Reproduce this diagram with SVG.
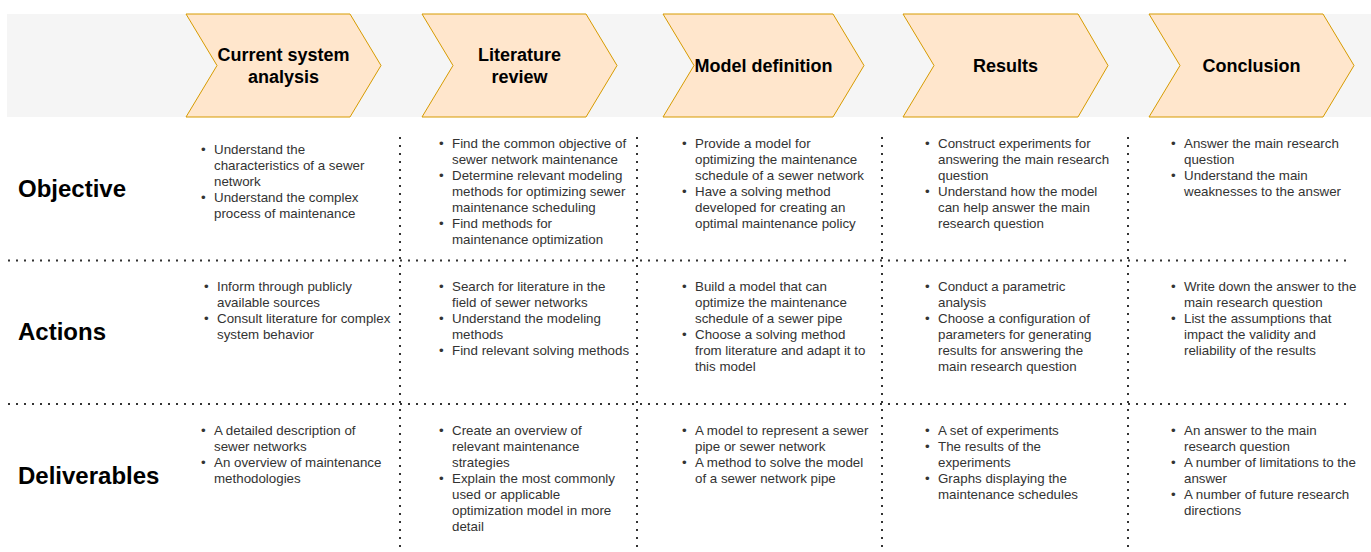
<svg xmlns="http://www.w3.org/2000/svg" width="1371" height="552" viewBox="0 0 1371 552">
  <style>
    .band { fill: #f5f5f5; }
    .phase { fill: #ffe6cc; stroke: #d79b00; stroke-width: 1; }
    .phase-label { font-family: "Liberation Sans", Arial, sans-serif; font-size: 18px; font-weight: bold; fill: #000000; text-anchor: middle; }
    .row-label { font-family: "Liberation Sans", Arial, sans-serif; font-size: 24px; font-weight: bold; fill: #000000; }
    .cell { font-family: "Liberation Sans", Arial, sans-serif; font-size: 13.33px; fill: #333333; }
    .grid line { stroke: #333333; stroke-width: 2; stroke-dasharray: 2 6; fill: none; }
  </style>

  <rect width="1371" height="552" fill="#ffffff"/>

  <!-- header band with the five phase chevrons -->
  <rect id="header-band" class="band" x="7" y="14" width="1364" height="103"/>

  <g id="phase-current-system">
    <polygon class="phase" points="186,14 350,14 381,65.5 350,117 186,117 217,65.5"/>
    <text class="phase-label" x="283.5" y="60.5">Current system</text>
    <text class="phase-label" x="283.5" y="82.5">analysis</text>
  </g>
  <g id="phase-literature">
    <polygon class="phase" points="422,14 586,14 617,65.5 586,117 422,117 453,65.5"/>
    <text class="phase-label" x="519.5" y="60.5">Literature</text>
    <text class="phase-label" x="519.5" y="82.5">review</text>
  </g>
  <g id="phase-model">
    <polygon class="phase" points="663,14 833,14 864,65.5 833,117 663,117 694,65.5"/>
    <text class="phase-label" x="763.5" y="71.5">Model definition</text>
  </g>
  <g id="phase-results">
    <polygon class="phase" points="903,14 1078,14 1108,65.5 1078,117 903,117 934,65.5"/>
    <text class="phase-label" x="1005.5" y="71.5">Results</text>
  </g>
  <g id="phase-conclusion">
    <polygon class="phase" points="1149,14 1323,14 1354,65.5 1323,117 1149,117 1180,65.5"/>
    <text class="phase-label" x="1251.5" y="71.5">Conclusion</text>
  </g>

  <!-- dotted grid separating rows and columns -->
  <g id="grid" class="grid">
    <line x1="8" y1="260.5" x2="1350" y2="260.5"/>
    <line x1="8" y1="404" x2="1350" y2="404"/>
    <line x1="400" y1="137" x2="400" y2="552"/>
    <line x1="637" y1="137" x2="637" y2="552"/>
    <line x1="882" y1="137" x2="882" y2="552"/>
    <line x1="1128" y1="137" x2="1128" y2="552"/>
  </g>

  <!-- row labels -->
  <g id="row-objective"><text class="row-label" x="18" y="196.5">Objective</text></g>
  <g id="row-actions"><text class="row-label" x="18" y="339.5">Actions</text></g>
  <g id="row-deliverables"><text class="row-label" x="18" y="483.5">Deliverables</text></g>

  <!-- Objective row -->
  <g id="objective-current" class="cell">
    <text x="201" y="153.5">•</text>
    <text x="214" y="153.5">Understand the</text>
    <text x="214" y="169.5">characteristics of a sewer</text>
    <text x="214" y="185.5">network</text>
    <text x="201" y="201.5">•</text>
    <text x="214" y="201.5">Understand the complex</text>
    <text x="214" y="217.5">process of maintenance</text>
  </g>
  <g id="objective-literature" class="cell">
    <text x="439" y="147.5">•</text>
    <text x="452" y="147.5">Find the common objective of</text>
    <text x="452" y="163.5">sewer network maintenance</text>
    <text x="439" y="179.5">•</text>
    <text x="452" y="179.5">Determine relevant modeling</text>
    <text x="452" y="195.5">methods for optimizing sewer</text>
    <text x="452" y="211.5">maintenance scheduling</text>
    <text x="439" y="227.5">•</text>
    <text x="452" y="227.5">Find methods for</text>
    <text x="452" y="243.5">maintenance optimization</text>
  </g>
  <g id="objective-model" class="cell">
    <text x="682" y="147.5">•</text>
    <text x="695" y="147.5">Provide a model for</text>
    <text x="695" y="163.5">optimizing the maintenance</text>
    <text x="695" y="179.5">schedule of a sewer network</text>
    <text x="682" y="195.5">•</text>
    <text x="695" y="195.5">Have a solving method</text>
    <text x="695" y="211.5">developed for creating an</text>
    <text x="695" y="227.5">optimal maintenance policy</text>
  </g>
  <g id="objective-results" class="cell">
    <text x="925" y="147.5">•</text>
    <text x="938" y="147.5">Construct experiments for</text>
    <text x="938" y="163.5">answering the main research</text>
    <text x="938" y="179.5">question</text>
    <text x="925" y="195.5">•</text>
    <text x="938" y="195.5">Understand how the model</text>
    <text x="938" y="211.5">can help answer the main</text>
    <text x="938" y="227.5">research question</text>
  </g>
  <g id="objective-conclusion" class="cell">
    <text x="1171" y="147.5">•</text>
    <text x="1184" y="147.5">Answer the main research</text>
    <text x="1184" y="163.5">question</text>
    <text x="1171" y="179.5">•</text>
    <text x="1184" y="179.5">Understand the main</text>
    <text x="1184" y="195.5">weaknesses to the answer</text>
  </g>

  <!-- Actions row -->
  <g id="actions-current" class="cell">
    <text x="204" y="290.5">•</text>
    <text x="217" y="290.5">Inform through publicly</text>
    <text x="217" y="306.5">available sources</text>
    <text x="204" y="322.5">•</text>
    <text x="217" y="322.5">Consult literature for complex</text>
    <text x="217" y="338.5">system behavior</text>
  </g>
  <g id="actions-literature" class="cell">
    <text x="439" y="290.5">•</text>
    <text x="452" y="290.5">Search for literature in the</text>
    <text x="452" y="306.5">field of sewer networks</text>
    <text x="439" y="322.5">•</text>
    <text x="452" y="322.5">Understand the modeling</text>
    <text x="452" y="338.5">methods</text>
    <text x="439" y="354.5">•</text>
    <text x="452" y="354.5">Find relevant solving methods</text>
  </g>
  <g id="actions-model" class="cell">
    <text x="682" y="290.5">•</text>
    <text x="695" y="290.5">Build a model that can</text>
    <text x="695" y="306.5">optimize the maintenance</text>
    <text x="695" y="322.5">schedule of a sewer pipe</text>
    <text x="682" y="338.5">•</text>
    <text x="695" y="338.5">Choose a solving method</text>
    <text x="695" y="354.5">from literature and adapt it to</text>
    <text x="695" y="370.5">this model</text>
  </g>
  <g id="actions-results" class="cell">
    <text x="925" y="290.5">•</text>
    <text x="938" y="290.5">Conduct a parametric</text>
    <text x="938" y="306.5">analysis</text>
    <text x="925" y="322.5">•</text>
    <text x="938" y="322.5">Choose a configuration of</text>
    <text x="938" y="338.5">parameters for generating</text>
    <text x="938" y="354.5">results for answering the</text>
    <text x="938" y="370.5">main research question</text>
  </g>
  <g id="actions-conclusion" class="cell">
    <text x="1171" y="290.5">•</text>
    <text x="1184" y="290.5">Write down the answer to the</text>
    <text x="1184" y="306.5">main research question</text>
    <text x="1171" y="322.5">•</text>
    <text x="1184" y="322.5">List the assumptions that</text>
    <text x="1184" y="338.5">impact the validity and</text>
    <text x="1184" y="354.5">reliability of the results</text>
  </g>

  <!-- Deliverables row -->
  <g id="deliverables-current" class="cell">
    <text x="201" y="434.5">•</text>
    <text x="214" y="434.5">A detailed description of</text>
    <text x="214" y="450.5">sewer networks</text>
    <text x="201" y="466.5">•</text>
    <text x="214" y="466.5">An overview of maintenance</text>
    <text x="214" y="482.5">methodologies</text>
  </g>
  <g id="deliverables-literature" class="cell">
    <text x="439" y="434.5">•</text>
    <text x="452" y="434.5">Create an overview of</text>
    <text x="452" y="450.5">relevant maintenance</text>
    <text x="452" y="466.5">strategies</text>
    <text x="439" y="482.5">•</text>
    <text x="452" y="482.5">Explain the most commonly</text>
    <text x="452" y="498.5">used or applicable</text>
    <text x="452" y="514.5">optimization model in more</text>
    <text x="452" y="530.5">detail</text>
  </g>
  <g id="deliverables-model" class="cell">
    <text x="682" y="434.5">•</text>
    <text x="695" y="434.5">A model to represent a sewer</text>
    <text x="695" y="450.5">pipe or sewer network</text>
    <text x="682" y="466.5">•</text>
    <text x="695" y="466.5">A method to solve the model</text>
    <text x="695" y="482.5">of a sewer network pipe</text>
  </g>
  <g id="deliverables-results" class="cell">
    <text x="925" y="434.5">•</text>
    <text x="938" y="434.5">A set of experiments</text>
    <text x="925" y="450.5">•</text>
    <text x="938" y="450.5">The results of the</text>
    <text x="938" y="466.5">experiments</text>
    <text x="925" y="482.5">•</text>
    <text x="938" y="482.5">Graphs displaying the</text>
    <text x="938" y="498.5">maintenance schedules</text>
  </g>
  <g id="deliverables-conclusion" class="cell">
    <text x="1171" y="434.5">•</text>
    <text x="1184" y="434.5">An answer to the main</text>
    <text x="1184" y="450.5">research question</text>
    <text x="1171" y="466.5">•</text>
    <text x="1184" y="466.5">A number of limitations to the</text>
    <text x="1184" y="482.5">answer</text>
    <text x="1171" y="498.5">•</text>
    <text x="1184" y="498.5">A number of future research</text>
    <text x="1184" y="514.5">directions</text>
  </g>
</svg>
